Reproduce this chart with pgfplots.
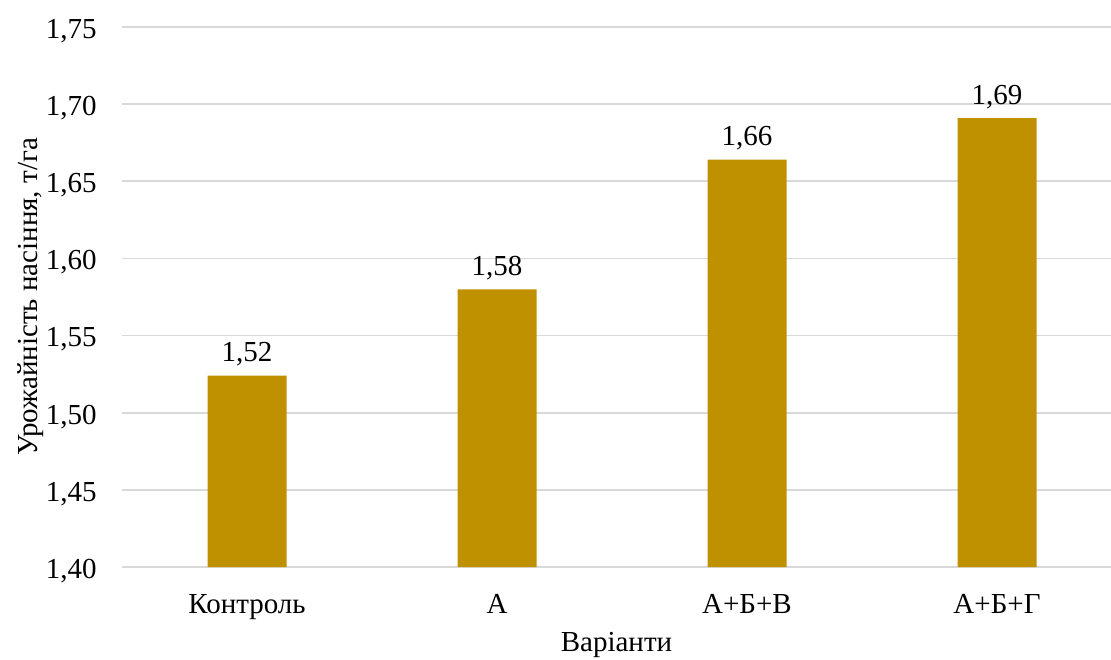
\documentclass[border=0pt]{standalone}
\usepackage{fontspec}
\setmainfont{Liberation Serif}
\usepackage{pgfplots}
\pgfplotsset{compat=1.18}
\definecolor{bargold}{HTML}{BF9000}
\definecolor{gridgray}{HTML}{D9D9D9}
\newcommand{\chartfont}{\fontsize{14.5}{17}\selectfont}
\begin{document}
\begin{tikzpicture}
% fixed page extent around the plot area
\useasboundingbox (-61pt,-46pt) rectangle (494.5pt,283.5pt);
\begin{axis}[
  at={(0,0)}, anchor=south west,
  scale only axis,
  width=494.5pt, height=270pt,
  ymin=1.40, ymax=1.75,
  ytick={1.40,1.45,...,1.76},
  xmin=-0.5, xmax=3.456,
  xtick=data,
  xticklabels={Контроль, А, А+Б+В, А+Б+Г},
  ymajorgrids,
  grid style={gridgray, line width=0.8pt},
  axis line style={draw=none},
  tick style={draw=none},
  /pgf/number format/assume math mode=true,
  /pgf/number format/.cd, use comma, fixed, fixed zerofill, precision=2,
  /pgfplots/.cd,
  ticklabel style={font=\chartfont, inner sep=0pt},
  yticklabel style={anchor=east, xshift=-12.5pt, yshift=-2pt},
  xticklabel style={anchor=base, yshift=-19pt},
  xlabel={Варіанти},
  ylabel={Урожайність насіння, т/га},
  label style={font=\chartfont, inner sep=0pt},
  xlabel style={at={(axis description cs:0.5,0)}, anchor=base, yshift=-42pt},
  ylabel style={at={([xshift=-42pt]axis description cs:0,0.5)}, rotate=0, anchor=base},
  ybar, bar width=39.5pt,
  nodes near coords,
  nodes near coords style={font=\chartfont, anchor=base, inner sep=0pt, yshift=7pt,
    /pgf/number format/.cd, use comma, fixed, fixed zerofill, precision=2, assume math mode=true},
]
\addplot[fill=bargold, draw=none] coordinates {
  (0,1.524) (1,1.580) (2,1.664) (3,1.691)
};
\end{axis}
\end{tikzpicture}
\end{document}
